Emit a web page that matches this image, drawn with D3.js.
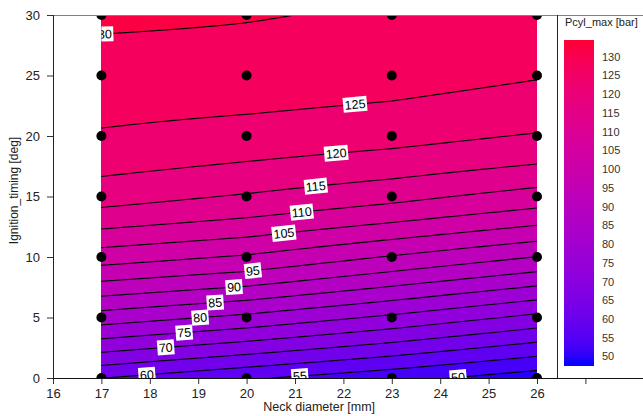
<!DOCTYPE html>
<html><head><meta charset="utf-8">
<script src="https://cdn.jsdelivr.net/npm/d3@7"></script>
<style>body{margin:0;background:#fff;} svg{display:block;font-family:"Liberation Sans",Arial,sans-serif;}</style>
</head><body>
<svg id="c" width="643" height="416"></svg>
<script>
// ---- data ----
const neckDiameters = [17, 20, 23, 26];
const ignitionTimings = [0, 5, 10, 15, 20, 25, 30];
const pcylAt17 = [60.1, 82.6, 102.4, 117.0, 124.4, 128.0, 130.8];
const pcylAt20 = [55.7, 78.8, 99.4, 114.5, 123.0, 127.7, 130.2];
const pcylAt23 = [51.7, 74.0, 94.6, 111.5, 121.6, 126.8, 129.6];
const pcylAt26 = [47.3, 68.7, 89.9, 107.9, 119.6, 125.3, 128.5];
const contourLevels = [50,55,60,65,70,75,80,85,90,95,100,105,110,115,120,125,130];
const labelLevels = [130,125,120,115,110,105,95,90,85,80,75,70,60,55,50];
const labelNeck   = [17,22.24,21.85,21.43,21.14,20.77,20.13,19.74,19.35,19.04,18.71,18.33,17.94,21.10,24.37];
const xTicks = [16,17,18,19,20,21,22,23,24,25,26,27];
const xTickLabels = ["16","17","18","19","20","21","22","23","24","25","26",""];
const yTicks = [0,5,10,15,20,25,30];
const colorTicks = [50,55,60,65,70,75,80,85,90,95,100,105,110,115,120,125,130];
const colorRange = [47.5, 134.5];
const xTitle = "Neck diameter [mm]";
const yTitle = "Ignition_timing [deg]";
const legendTitle = "Pcyl_max [bar]";

// ---- layout ----
const svg = d3.select("#c");
const x = d3.scaleLinear().domain([16, 26]).range([53, 537]);
const y = d3.scaleLinear().domain([0, 30]).range([378, 15]);
const colorInterp = d3.interpolateRgb.gamma(2.2)("#0000ff", "#ff0033");
const color = v => colorInterp((v - colorRange[0]) / (colorRange[1] - colorRange[0]));

// ---- interpolation ----
function pchip(xs, ys){
  const n = xs.length, h = [], d = [], m = new Array(n);
  for (let i = 0; i < n-1; i++){ h[i] = xs[i+1]-xs[i]; d[i] = (ys[i+1]-ys[i])/h[i]; }
  for (let i = 1; i < n-1; i++){
    if (d[i-1]*d[i] <= 0) m[i] = 0;
    else { const w1 = 2*h[i]+h[i-1], w2 = h[i]+2*h[i-1]; m[i] = (w1+w2)/(w1/d[i-1]+w2/d[i]); }
  }
  const end = (h0,h1,d0,d1) => { let mm = ((2*h0+h1)*d0 - h0*d1)/(h0+h1);
    if (Math.sign(mm) !== Math.sign(d0)) mm = 0;
    else if (Math.sign(d0) !== Math.sign(d1) && Math.abs(mm) > Math.abs(3*d0)) mm = 3*d0;
    return mm; };
  m[0] = end(h[0],h[1],d[0],d[1]);
  m[n-1] = end(h[n-2],h[n-3],d[n-2],d[n-3]);
  return function(v){
    const i = Math.min(n-2, Math.max(0, d3.bisectRight(xs, v)-1));
    const t = (v-xs[i])/h[i], t2 = t*t, t3 = t2*t;
    return (2*t3-3*t2+1)*ys[i] + (t3-2*t2+t)*h[i]*m[i] + (-2*t3+3*t2)*ys[i+1] + (t3-t2)*h[i]*m[i+1];
  };
}
const columns = [pcylAt17, pcylAt20, pcylAt23, pcylAt26].map(c => pchip(ignitionTimings, c));
function field(xv, yv){
  xv = Math.max(17, Math.min(26, xv)); yv = Math.max(0, Math.min(30, yv));
  let j = Math.min(neckDiameters.length-2, Math.max(0, d3.bisectRight(neckDiameters, xv)-1));
  const t = (xv - neckDiameters[j])/(neckDiameters[j+1]-neckDiameters[j]);
  return (1-t)*columns[j](yv) + t*columns[j+1](yv);
}

// grid
const dx = 0.05, dy = 0.1, x0 = 17 - dx, y0 = 0 - dy;
const nx = Math.round(9/dx) + 3, ny = Math.round(30/dy) + 3;
const values = new Float64Array(nx*ny);
for (let j = 0; j < ny; j++) for (let i = 0; i < nx; i++) values[j*nx+i] = field(x0+i*dx, y0+j*dy);
const contours = d3.contours().size([nx, ny]).thresholds(contourLevels)(values);
const path = d3.geoPath(d3.geoTransform({point(px, py){
  this.stream.point(x(x0 + (px-0.5)*dx), y(y0 + (py-0.5)*dy));
}}));

const defs = svg.append("defs");
defs.append("clipPath").attr("id","dataClip").append("rect")
  .attr("x", x(17)).attr("y", y(30)).attr("width", x(26)-x(17)).attr("height", y(0)-y(30));
defs.append("clipPath").attr("id","plotClip").append("rect")
  .attr("x", 53).attr("y", y(30)).attr("width", 557-53).attr("height", y(0)-y(30));

const gData = svg.append("g").attr("clip-path","url(#dataClip)");
gData.append("rect").attr("x", x(17)).attr("y", y(30)).attr("width", x(26)-x(17)).attr("height", y(0)-y(30))
  .attr("fill", color((colorRange[0]+contourLevels[0])/2));
contours.forEach((c, k) => {
  const upper = k+1 < contourLevels.length ? contourLevels[k+1] : colorRange[1];
  gData.append("path").attr("d", path(c)).attr("fill", color((c.value+upper)/2)).attr("stroke","none");
});
contours.forEach(c => {
  gData.append("path").attr("d", path(c)).attr("fill","none").attr("stroke","#000").attr("stroke-width",1.1);
});

// labels
function levelY(xv, L){
  let lo = 0, hi = 30;
  for (let it = 0; it < 50; it++){ const mid = (lo+hi)/2; if (field(xv, mid) < L) lo = mid; else hi = mid; }
  return (lo+hi)/2;
}
const gLab = svg.append("g").attr("clip-path","url(#dataClip)");
labelLevels.forEach((L, k) => {
  const xv = labelNeck[k], yv = levelY(xv, L);
  const e = 0.05;
  const fx = (field(xv+e, yv) - field(xv-e, yv))/(2*e);
  const fy = (field(xv, yv+e) - field(xv, yv-e))/(2*e);
  const slope = -fx/fy;
  const ang = Math.atan2(-(y(0)-y(slope)) , (x(17+1)-x(17))) * 180/Math.PI;
  const g = gLab.append("g").attr("transform", `translate(${x(xv)},${y(yv)}) rotate(${ang})`);
  const r = g.append("rect").attr("fill","#fff");
  const t = g.append("text").attr("text-anchor","middle").attr("dy","0.36em")
    .attr("font-size", 12.5).attr("fill","#000").text(L);
  const w = t.node().getComputedTextLength();
  r.attr("x", -w/2-1.5).attr("y", -7.5).attr("width", w+3).attr("height", 15);
});

// dots
const gDots = svg.append("g").attr("clip-path","url(#plotClip)");
neckDiameters.forEach(nd => ignitionTimings.forEach(it => {
  gDots.append("circle").attr("cx", x(nd)).attr("cy", y(it)).attr("r", 5).attr("fill","#000");
}));

// frame lines
svg.append("line").attr("x1",53).attr("x2",643).attr("y1",y(30)+0.5).attr("y2",y(30)+0.5).attr("stroke","#808080");
svg.append("line").attr("x1",557.5).attr("x2",557.5).attr("y1",y(30)).attr("y2",y(0)).attr("stroke","#222");

// axes
const xAxis = svg.append("g").attr("transform", `translate(0,${y(0)})`)
  .call(d3.axisBottom(x).tickValues(xTicks).tickSizeOuter(0).tickSize(6).tickPadding(5)
    .tickFormat((d,i) => xTickLabels[i]));
xAxis.select(".domain").remove();
xAxis.append("line").attr("x1",53).attr("x2",643).attr("y1",0.5).attr("y2",0.5).attr("stroke","#111");
xAxis.selectAll("text").attr("font-size",13).attr("fill","#222").attr("font-family","Liberation Sans, Arial, sans-serif");
xAxis.selectAll(".tick line").attr("stroke","#333");

const yAxis = svg.append("g").attr("transform", `translate(53,0)`)
  .call(d3.axisLeft(y).tickValues(yTicks).tickSizeOuter(0).tickSize(6).tickPadding(7));
yAxis.select(".domain").remove();
yAxis.append("line").attr("x1",0.5).attr("x2",0.5).attr("y1",y(30)).attr("y2",y(0)).attr("stroke","#222");
yAxis.selectAll("text").attr("font-size",13).attr("fill","#222").attr("font-family","Liberation Sans, Arial, sans-serif");
yAxis.selectAll(".tick line").attr("stroke","#333");

svg.append("text").attr("x", (x(17)+x(26))/2).attr("y", 411).attr("text-anchor","middle")
  .attr("font-size",12.5).attr("fill","#222").text(xTitle);
svg.append("text").attr("transform", `translate(18,${(y(0)+y(30))/2 - 6}) rotate(-90)`).attr("text-anchor","middle")
  .attr("font-size",12).attr("fill","#222").text(yTitle);

// legend
const cy = d3.scaleLinear().domain(colorRange).range([366, 40]);
const grad = defs.append("linearGradient").attr("id","cbar").attr("x1",0).attr("x2",0).attr("y1",1).attr("y2",0);
d3.range(0, 1.0001, 0.05).forEach(f => {
  grad.append("stop").attr("offset", f).attr("stop-color", color(colorRange[0] + f*(colorRange[1]-colorRange[0])));
});
svg.append("rect").attr("x",564).attr("y",cy(colorRange[1])).attr("width",30)
  .attr("height", cy(colorRange[0])-cy(colorRange[1])).attr("fill","url(#cbar)");
svg.append("text").attr("x",565).attr("y",26).attr("font-size",11).attr("fill","#222").text(legendTitle);
svg.append("g").selectAll("text").data(colorTicks).join("text")
  .attr("x",602).attr("y", d => cy(d)).attr("dy","0.35em").attr("font-size",11).attr("fill","#333").text(d => d);
</script>
</body></html>
